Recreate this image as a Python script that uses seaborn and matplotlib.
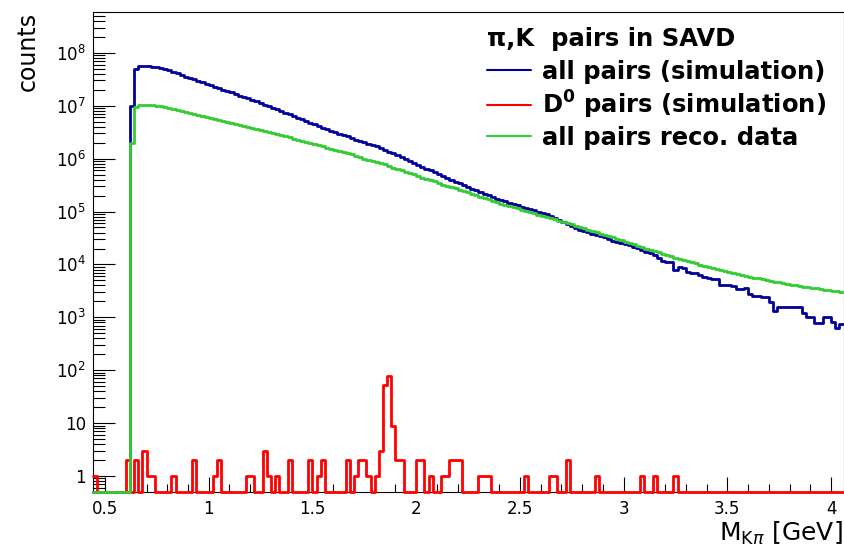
import numpy as np
import pandas as pd
import matplotlib
matplotlib.use("Agg")
import matplotlib.pyplot as plt
import matplotlib.ticker as mticker
import seaborn as sns

# ---------------- data ----------------
# histogram binning of the invariant mass M_Kpi (GeV)
bin_start = 0.44
bin_width = 0.02
n_bins = 181
first_filled_bin = 9          # first non-empty bin of the two "all pairs" histograms

# log10(counts) for bins 9 .. 180 : all pairs (simulation)
all_pairs_sim_log10 = [
    7.00, 7.69, 7.75, 7.75, 7.75, 7.74, 7.73, 7.71, 7.69, 7.67,
    7.64, 7.61, 7.58, 7.55, 7.52, 7.50, 7.47, 7.44, 7.41, 7.39,
    7.36, 7.33, 7.30, 7.28, 7.25, 7.22, 7.19, 7.17, 7.14, 7.11,
    7.08, 7.05, 7.02, 6.99, 6.96, 6.93, 6.90, 6.87, 6.84, 6.80,
    6.77, 6.74, 6.71, 6.68, 6.65, 6.61, 6.58, 6.56, 6.53, 6.50,
    6.47, 6.45, 6.42, 6.39, 6.36, 6.34, 6.31, 6.28, 6.26, 6.23,
    6.20, 6.17, 6.13, 6.10, 6.06, 6.03, 5.99, 5.95, 5.92, 5.88,
    5.85, 5.81, 5.78, 5.74, 5.70, 5.67, 5.63, 5.59, 5.56, 5.53,
    5.50, 5.47, 5.43, 5.40, 5.37, 5.34, 5.31, 5.28, 5.24, 5.21,
    5.19, 5.16, 5.14, 5.12, 5.09, 5.07, 5.05, 5.02, 5.00, 4.97,
    4.95, 4.91, 4.88, 4.84, 4.80, 4.76, 4.72, 4.69, 4.66, 4.63,
    4.61, 4.58, 4.56, 4.54, 4.51, 4.49, 4.44, 4.43, 4.41, 4.39,
    4.36, 4.33, 4.31, 4.28, 4.24, 4.21, 4.17, 4.13, 4.06, 4.05,
    4.04, 3.89, 3.96, 3.94, 3.85, 3.83, 3.83, 3.80, 3.77, 3.75,
    3.73, 3.72, 3.62, 3.61, 3.61, 3.60, 3.54, 3.53, 3.56, 3.45,
    3.40, 3.40, 3.39, 3.38, 3.29, 3.12, 3.20, 3.20, 3.20, 3.19,
    3.20, 3.19, 3.08, 3.01, 3.00, 2.89, 2.89, 3.00, 3.01, 2.92,
    2.79, 2.87,
]

# log10(counts) for bins 9 .. 180 : all pairs reco. data
all_pairs_reco_log10 = [
    6.29, 6.97, 7.01, 7.02, 7.02, 7.01, 7.00, 6.99, 6.98, 6.96,
    6.94, 6.92, 6.90, 6.88, 6.87, 6.85, 6.83, 6.81, 6.79, 6.77,
    6.75, 6.73, 6.71, 6.69, 6.67, 6.65, 6.63, 6.61, 6.59, 6.58,
    6.56, 6.54, 6.52, 6.50, 6.48, 6.46, 6.44, 6.42, 6.40, 6.38,
    6.35, 6.33, 6.31, 6.29, 6.27, 6.25, 6.23, 6.20, 6.18, 6.16,
    6.14, 6.12, 6.10, 6.08, 6.05, 6.03, 6.00, 5.98, 5.96, 5.93,
    5.91, 5.89, 5.86, 5.83, 5.81, 5.78, 5.75, 5.72, 5.70, 5.67,
    5.64, 5.62, 5.59, 5.57, 5.54, 5.51, 5.49, 5.46, 5.44, 5.41,
    5.38, 5.36, 5.33, 5.31, 5.28, 5.25, 5.23, 5.20, 5.18, 5.15,
    5.13, 5.10, 5.08, 5.06, 5.03, 5.01, 4.99, 4.97, 4.94, 4.92,
    4.90, 4.87, 4.85, 4.83, 4.80, 4.78, 4.76, 4.73, 4.71, 4.69,
    4.66, 4.63, 4.61, 4.58, 4.56, 4.53, 4.51, 4.48, 4.46, 4.43,
    4.40, 4.38, 4.35, 4.33, 4.30, 4.28, 4.25, 4.23, 4.20, 4.18,
    4.16, 4.13, 4.11, 4.09, 4.06, 4.04, 4.02, 3.99, 3.97, 3.95,
    3.93, 3.91, 3.89, 3.88, 3.86, 3.84, 3.82, 3.80, 3.78, 3.77,
    3.75, 3.74, 3.72, 3.70, 3.69, 3.67, 3.66, 3.64, 3.63, 3.62,
    3.61, 3.59, 3.58, 3.57, 3.56, 3.55, 3.54, 3.52, 3.51, 3.50,
    3.49, 3.48,
]

# counts per bin, bins 0 .. 180 : D0 pairs (simulation)
d0_pairs_sim = [
    1, 0, 0, 0, 0, 0, 0, 0, 2, 0, 2, 0, 3, 1, 1, 0, 0, 0, 0, 1,
    0, 0, 0, 0, 2, 0, 0, 0, 0, 1, 2, 0, 0, 0, 0, 0, 0, 1, 1, 0,
    0, 3, 1, 0, 1, 0, 0, 2, 0, 0, 0, 0, 2, 0, 1, 2, 0, 0, 0, 0,
    0, 2, 0, 1, 2, 2, 1, 0, 1, 3, 53, 77, 9, 2, 2, 0, 0, 0, 2, 2,
    0, 1, 0, 0, 1, 1, 2, 2, 2, 0, 0, 0, 0, 1, 1, 1, 0, 0, 0, 0,
    0, 0, 0, 0, 1, 0, 0, 0, 0, 0, 1, 1, 0, 0, 2, 0, 0, 0, 0, 0,
    0, 1, 0, 0, 0, 0, 0, 0, 0, 0, 0, 0, 1, 0, 0, 1, 0, 0, 0, 0,
    1, 0, 0, 0, 0, 0, 0, 0, 0, 0, 0, 0, 0, 0, 0, 0, 0, 0, 0, 0,
    0, 0, 0, 0, 0, 0, 0, 0, 0, 0, 0, 0, 0, 0, 0, 0, 0, 0, 0, 0,
    0,
]

series_labels = ["all pairs (simulation)",
                 r"$\mathbf{D^{0}}$ pairs (simulation)",
                 "all pairs reco. data"]
series_colors = ["#000099", "#ff0000", "#33cc33"]
legend_title = "π,K  pairs in SAVD"

x_ticks = [0.5, 1, 1.5, 2, 2.5, 3, 3.5, 4]
x_tick_labels = ["0.5", "1", "1.5", "2", "2.5", "3", "3.5", "4"]
y_ticks = [1, 1e1, 1e2, 1e3, 1e4, 1e5, 1e6, 1e7, 1e8]
y_tick_labels = ["1", "10", r"$10^{2}$", r"$10^{3}$", r"$10^{4}$",
                 r"$10^{5}$", r"$10^{6}$", r"$10^{7}$", r"$10^{8}$"]
x_limits = (0.442, 4.06)
y_limits = (0.5, 5.9e8)
y_title = "counts"
x_title = r"M$_{\mathrm{K}\pi}$ [GeV]"

# ---------------- build histograms ----------------
edges = bin_start + bin_width * np.arange(n_bins + 1)

sim = np.zeros(n_bins)
sim[first_filled_bin:] = 10.0 ** np.array(all_pairs_sim_log10)
reco = np.zeros(n_bins)
reco[first_filled_bin:] = 10.0 ** np.array(all_pairs_reco_log10)
d0 = np.array(d0_pairs_sim, dtype=float)


def step_frame(counts):
    # empty bins are drawn on the lower edge of the log axis (as ROOT does)
    y = np.where(counts > 0, counts, y_limits[0])
    y = np.append(y, y[-1])
    return pd.DataFrame({"m": edges, "counts": y})


# ---------------- figure ----------------
sns.set_theme(style="white")
plt.rcParams["font.family"] = ["DejaVu Sans"]
plt.rcParams["mathtext.fontset"] = "dejavusans"
for key in ["text.color", "axes.labelcolor", "xtick.color", "ytick.color",
            "axes.edgecolor"]:
    plt.rcParams[key] = "black"

W, H = 844, 549
fig = plt.figure(figsize=(W / 100, H / 100), dpi=100)
ax = fig.add_axes([93 / W, (H - 492) / H, 750.5 / W, 480 / H])
ax.set_yscale("log")

handles = []
for counts, label, color, z in [(sim, series_labels[0], series_colors[0], 2),
                                (d0, series_labels[1], series_colors[1], 3),
                                (reco, series_labels[2], series_colors[2], 4)]:
    sns.lineplot(data=step_frame(counts), x="m", y="counts",
                 drawstyle="steps-post", estimator=None, sort=False,
                 color=color, linewidth=2.0, ax=ax, clip_on=False,
                 zorder=z, label=label, legend=False)
    handles.append(ax.lines[-1])

ax.set_xlim(*x_limits)
ax.set_ylim(*y_limits)

ax.set_xticks(x_ticks)
ax.set_xticklabels(x_tick_labels)
ax.xaxis.set_minor_locator(mticker.MultipleLocator(0.1))
ax.set_yticks(y_ticks)
ax.set_yticklabels(y_tick_labels)
ax.yaxis.set_minor_locator(mticker.LogLocator(base=10, subs=np.arange(2, 10), numticks=30))
ax.yaxis.set_minor_formatter(mticker.NullFormatter())

ax.tick_params(axis="both", which="both", direction="in", colors="black",
               width=0.8, labelsize=12, top=False, right=False,
               left=True, bottom=True)
ax.tick_params(axis="y", which="major", length=16, pad=5)
ax.tick_params(axis="y", which="minor", length=8.5)
ax.tick_params(axis="x", which="major", length=11, pad=6)
ax.tick_params(axis="x", which="minor", length=5.5)
for side in ["left", "bottom", "top", "right"]:
    ax.spines[side].set_color("black")
    ax.spines[side].set_linewidth(0.8)
ax.set_xlabel("")
ax.set_ylabel("")

fig.text(28 / W, 1 - 12 / H, y_title, rotation=90, ha="center", va="top",
         fontsize=17)
fig.text(843 / W, (H - 541) / H, x_title, ha="right", va="baseline",
         fontsize=18)

# legend header and entries
fig.text(487 / W, (H - 46) / H, legend_title, ha="left", va="baseline",
         fontsize=17.5, fontweight="bold")
leg = ax.legend(handles, series_labels,
                loc="upper left", bbox_to_anchor=(487 / W, 1 - 60 / H),
                bbox_transform=fig.transFigure, frameon=False,
                fontsize=17.5, handlelength=1.8, handletextpad=0.45,
                labelspacing=0.2, borderpad=0, borderaxespad=0)
for t in leg.get_texts():
    t.set_fontweight("bold")
    t.set_color("black")
for ln in leg.get_lines():
    ln.set_linewidth(1.5)

fig.savefig("out.png", dpi=100)
